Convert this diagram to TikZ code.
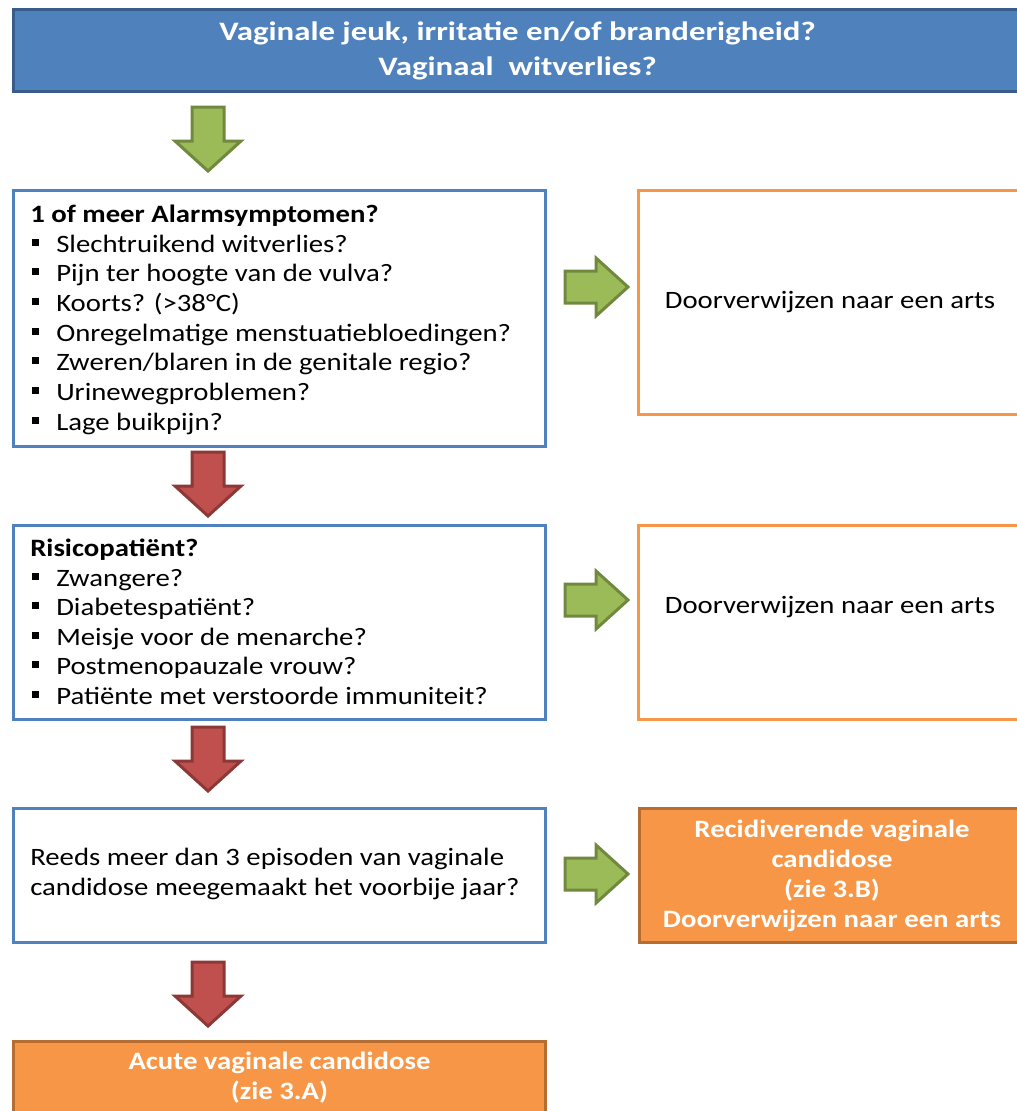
\documentclass[tikz,border=0pt]{standalone}
\usepackage{fontspec}
\setmainfont{Carlito}[FakeStretch=1.15]
\newfontfamily\kopletter{Carlito}[FakeStretch=1.23]

\definecolor{blauw}{HTML}{4F81BD}
\definecolor{donkerblauw}{HTML}{385D8A}
\definecolor{oranje}{HTML}{F79646}
\definecolor{donkeroranje}{HTML}{B66D31}
\definecolor{groen}{HTML}{9BBB59}
\definecolor{donkergroen}{HTML}{71893F}
\definecolor{rood}{HTML}{C0504D}
\definecolor{donkerrood}{HTML}{8C3836}

\newcommand{\tekst}{\fontsize{18.75pt}{22.5pt}\selectfont}
\newcommand{\koptekst}{\kopletter\fontsize{20pt}{26.25pt}\selectfont}
\newcommand{\blokje}{\makebox[18pt][l]{\rule[4.5pt]{5.25pt}{5.25pt}}}
\newcommand{\pijlomlaag}[2]{\draw[#2] (#1) ++(-16,0) -- ++(32,0) -- ++(0,34) -- ++(17,0) -- ++(-33,30) -- ++(-33,-30) -- ++(17,0) -- cycle;}
\newcommand{\pijlrechts}[2]{\draw[#2] (#1) ++(0,-16) -- ++(31,0) -- ++(0,-13) -- ++(32,29) -- ++(-32,29) -- ++(0,-13) -- ++(-31,0) -- cycle;}

\tikzset{
  maat/.style 2 args={minimum width=#1*0.75pt, minimum height=#2*0.75pt},
  vak/.style={draw=blauw, line width=2.25pt, fill=white, anchor=north west, inner sep=0pt},
  verwijs/.style={draw=oranje, line width=2.25pt, fill=white, anchor=north west, inner sep=0pt},
  uitkomst/.style={draw=donkeroranje, line width=2.25pt, fill=oranje, anchor=north west, inner sep=0pt, text=white, font=\tekst\bfseries, align=center},
  kop/.style={draw=donkerblauw, line width=2.25pt, fill=blauw, anchor=north west, inner sep=0pt, text=white, font=\koptekst\bfseries, align=center},
  regel/.style={anchor=base west, inner sep=0pt, font=\tekst},
  midden/.style={anchor=base, inner sep=0pt, font=\tekst},
  groenpijl/.style={fill=groen, draw=donkergroen, line width=2.25pt},
  roodpijl/.style={fill=rood, draw=donkerrood, line width=2.25pt}
}

\begin{document}
\begin{tikzpicture}[x=0.75pt,y=-0.75pt]
\useasboundingbox (0,0) rectangle (1017,1111);
\clip (0,0) rectangle (1017,1111);

\node[kop, maat={1008}{82}] (klacht) at (12,8) {Vaginale jeuk, irritatie en/of branderigheid?\\Vaginaal\ \ witverlies?};

\node[vak, maat={532}{256}] (alarm) at (12,189) {};
\node[regel, font=\tekst\bfseries] (alarmkop) at (30,222) {1 of meer Alarmsymptomen?};
\node[regel] (alarm1) at (32,252) {\blokje Slechtruikend witverlies?};
\node[regel] (alarm2) at (32,281) {\blokje Pijn ter hoogte van de vulva?};
\node[regel] (alarm3) at (32,311) {\blokje Koorts? (>38°C)};
\node[regel] (alarm4) at (32,341) {\blokje Onregelmatige menstuatiebloedingen?};
\node[regel] (alarm5) at (32,370) {\blokje Zweren/blaren in de genitale regio?};
\node[regel] (alarm6) at (32,400) {\blokje Urinewegproblemen?};
\node[regel] (alarm7) at (32,430) {\blokje Lage buikpijn?};

\node[verwijs, maat={386}{224}] (arts1) at (637,189) {};
\node[midden] (arts1tekst) at (830,308) {Doorverwijzen naar een arts};

\node[vak, maat={532}{194}] (risico) at (12,524) {};
\node[regel, font=\tekst\bfseries] (risicokop) at (30,556) {Risicopatiënt?};
\node[regel] (risico1) at (32,586) {\blokje Zwangere?};
\node[regel] (risico2) at (32,615) {\blokje Diabetespatiënt?};
\node[regel] (risico3) at (32,645) {\blokje Meisje voor de menarche?};
\node[regel] (risico4) at (32,674) {\blokje Postmenopauzale vrouw?};
\node[regel] (risico5) at (32,704) {\blokje Patiënte met verstoorde immuniteit?};

\node[verwijs, maat={386}{194}] (arts2) at (637,524) {};
\node[midden] (arts2tekst) at (830,613) {Doorverwijzen naar een arts};

\node[vak, maat={532}{134}] (episoden) at (12,807) {};
\node[regel, anchor=west, align=left] (episodentekst) at (30,874) {Reeds meer dan 3 episoden van vaginale\\candidose meegemaakt het voorbije jaar?};

\node[uitkomst, maat={385}{134}] (recidief) at (638,807) {Recidiverende vaginale\\candidose\\(zie 3.B)\\Doorverwijzen naar een arts};

\node[uitkomst, maat={532}{73}] (acuut) at (12,1040) {Acute vaginale candidose\\(zie 3.A)};

\coordinate (p1) at (208,107);
\coordinate (p2) at (208,452);
\coordinate (p3) at (208,727);
\coordinate (p4) at (208,962);
\pijlomlaag{p1}{groenpijl}
\pijlomlaag{p2}{roodpijl}
\pijlomlaag{p3}{roodpijl}
\pijlomlaag{p4}{roodpijl}

\coordinate (q1) at (565,287);
\coordinate (q2) at (565,600);
\coordinate (q3) at (565,874);
\pijlrechts{q1}{groenpijl}
\pijlrechts{q2}{groenpijl}
\pijlrechts{q3}{groenpijl}
\end{tikzpicture}
\end{document}
